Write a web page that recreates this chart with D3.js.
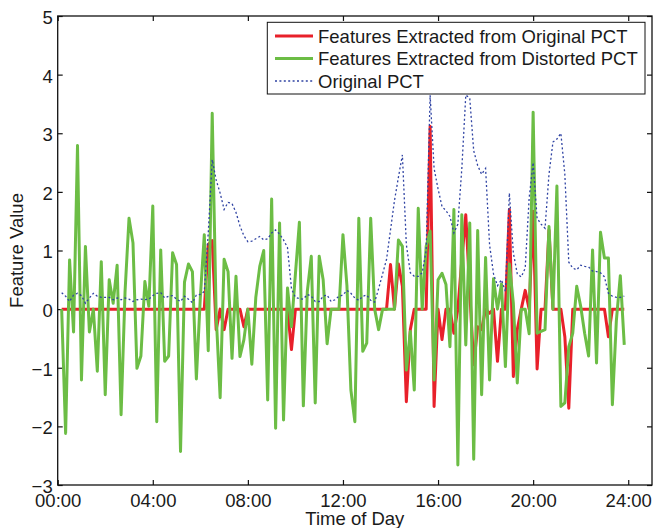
<!DOCTYPE html>
<html>
<head>
<meta charset="utf-8">
<script src="https://cdn.jsdelivr.net/npm/d3@7/dist/d3.min.js"></script>
<style>
  html, body { margin: 0; padding: 0; background: #fff; }
  svg { display: block; }
  text { font-family: "Liberation Sans", Arial, Helvetica, sans-serif; fill: #1a1a1a; }
</style>
</head>
<body>
<svg id="chart" width="654" height="528"></svg>
<script>
// ---- data (10-minute samples, minutes after midnight) ----
const times = d3.range(1, 144).map(i => i * 10);

const xTicks = [0, 4, 8, 12, 16, 20, 24];
const xTickLabels = ["00:00", "04:00", "08:00", "12:00", "16:00", "20:00", "24:00"];
const yTicks = [-3, -2, -1, 0, 1, 2, 3, 4, 5];

const seriesNames = [
  "Features Extracted from Original PCT",
  "Features Extracted from Distorted PCT",
  "Original PCT"
];

const originalFeatures = [
  0,0,0,0,0,0,0,0,0,0,
  0,0,0,0,0,0,0,0,0,0,
  0,0,0,0,0,0,0,0,0,0,
  0,0,0,0,0,0,0,1.1,1.17,-0.35,
  0,-0.35,0,0,0,0,-0.3,0,0,0,
  0,0,0,0,0,0,0,0,-0.69,0,
  0,0,0,0,0,0,0,0,0,0,
  0,0,0,0,0,0,0,0,0,0,
  0,0,0,0.76,0,0.77,0.39,-1.58,-0.35,0,
  0,0,0,3.12,-1.66,0,-0.52,0,0,-0.41,
  0,0.84,1.61,0.3,-0.95,-0.3,-0.35,0,-0.07,0,
  -0.89,0,0,1.7,-1.15,-0.35,0,0.32,0,1.67,
  -1.02,0,0,1.35,0,0,0,-0.47,-1.69,0,
  0,0,0,0,0,0,0,0,-0.47,0,
  0,0,0
];

const distortedFeatures = [
  0,-2.12,0.84,-0.39,2.79,-1.21,1.07,-0.39,0,-1.06,
  0.81,-1.46,0.5,0.1,0.75,-1.8,0.3,1.55,1.13,-1.01,
  -0.8,0.47,0.05,1.76,-1.92,1.01,-0.89,-0.8,0.96,0.76,
  -2.43,0.46,0.77,0.64,-1.19,0.2,1.27,-0.71,3.34,-0.1,
  -1.51,0.85,0.64,-0.84,0.56,-0.81,-0.52,0,-0.94,0.2,
  0.73,1.0,-1.55,1.88,-2.03,1.47,-1.89,0.36,-0.3,0.6,
  1.48,-1.65,0.3,0.9,-1.6,0.9,0.5,-0.59,0,0,
  0,1.27,0.4,-1.38,-1.92,1.55,-0.72,-0.58,1.55,0,
  -0.35,0,0,0,0,1.18,1.07,-1.04,-0.38,-1.38,
  1.72,0,1.07,1.33,-1.21,0.5,0.61,0.42,-0.64,1.7,
  -2.66,1.61,-0.61,1.47,-2.56,1.34,-1.46,0.88,-1.21,0.52,
  0,0.43,-0.98,0.77,0.1,-1.26,0,0,-0.42,3.36,
  -0.41,-0.38,-0.35,1.41,0,2.1,-1.66,-1.6,-0.64,-0.41,
  0.39,0.05,-0.41,-0.8,1.01,-0.92,1.31,0.87,0.87,-1.63,
  -0.2,0.57,-0.61
];

const originalPCT = [
  0.28,0.22,0.13,0.24,0.27,0.23,0.1,0.19,0.27,0.22,
  0.2,0.2,0.2,0.16,0.19,0.16,0.19,0.17,0.13,0.16,
  0.17,0.16,0.17,0.23,0.27,0.28,0.19,0.22,0.23,0.17,
  0.13,0.22,0.17,0.11,0.24,0.25,0.3,1.3,2.55,2.2,
  1.98,1.7,1.82,1.8,1.65,1.42,1.25,1.15,1.16,1.2,
  1.24,1.18,1.2,1.3,1.35,1.28,1.18,1.05,0.35,0.2,
  0.18,0.17,0.25,0.22,0.13,0.13,0.22,0.24,0.13,0.16,
  0.22,0.24,0.32,0.27,0.19,0.15,0.22,0.24,0.15,0.12,
  0.35,0.6,0.85,1.35,1.85,2.25,2.63,1.1,0.62,0.56,
  0.56,0.62,1.0,3.65,2.4,2.05,1.75,1.68,1.58,1.3,
  1.45,2.4,3.65,3.6,2.7,2.45,2.3,2.4,1.1,0.6,
  0.4,0.5,0.3,1.98,0.96,0.6,0.55,0.7,1.9,2.5,
  1.55,1.45,1.38,2.3,2.85,2.9,3.0,2.3,0.8,0.7,
  0.67,0.75,0.73,0.72,0.65,0.64,0.62,0.55,0.27,0.22,
  0.2,0.2,0.22
];

// ---- layout ----
const L = 57.7, R = 652, T = 16, B = 485;
const FS = 18.5;
const svg = d3.select("#chart");

const x = d3.scaleLinear().domain([0, 25]).range([L, R]);
const y = d3.scaleLinear().domain([-3, 5]).range([B, T]);

const fmtY = v => (v < 0 ? "\u2212" + Math.abs(v) : String(v));

// axes
const gB = svg.append("g").attr("transform", `translate(0,${B})`)
  .call(d3.axisBottom(x).tickValues(xTicks).tickSize(-5).tickPadding(9)
    .tickFormat((d, i) => xTickLabels[i]));
const gT = svg.append("g").attr("transform", `translate(0,${T})`)
  .call(d3.axisTop(x).tickValues(xTicks).tickSize(-5).tickFormat(""));
const gL = svg.append("g").attr("transform", `translate(${L},0)`)
  .call(d3.axisLeft(y).tickValues(yTicks).tickSize(-5).tickPadding(5).tickFormat(fmtY));
const gR = svg.append("g").attr("transform", `translate(${R},0)`)
  .call(d3.axisRight(y).tickValues(yTicks).tickSize(-5).tickFormat(""));

[gB, gT, gL, gR].forEach(g => {
  g.select(".domain").remove();
  g.selectAll(".tick line").attr("stroke", "#111").attr("stroke-width", 1.2);
  g.selectAll(".tick text").attr("font-size", FS).attr("fill", "#1a1a1a")
    .style("font-family", '"Liberation Sans", Arial, sans-serif');
});
gL.selectAll(".tick text").attr("dy", "0.4em");

// clip for data
svg.append("clipPath").attr("id", "clip").append("rect")
  .attr("x", L).attr("y", T).attr("width", R - L).attr("height", B - T);

const hours = times.map(m => m / 60);
const line = d3.line().x((d, i) => x(hours[i])).y(d => y(d));

const BLUE = "#2f43a3", BLUE_DASH = "2,2.4", BLUE_W = 1.3;

const gData = svg.append("g").attr("clip-path", "url(#clip)");
gData.append("path").datum(originalFeatures).attr("d", line)
  .attr("fill", "none").attr("stroke", "#e8202a").attr("stroke-width", 3)
  .attr("stroke-linejoin", "round");
gData.append("path").datum(distortedFeatures).attr("d", line)
  .attr("fill", "none").attr("stroke", "#6cbd45").attr("stroke-width", 3)
  .attr("stroke-linejoin", "round");
gData.append("path").datum(originalPCT).attr("d", line)
  .attr("fill", "none").attr("stroke", BLUE).attr("stroke-width", BLUE_W)
  .attr("stroke-dasharray", BLUE_DASH);

// frame
svg.append("rect").attr("x", L).attr("y", T).attr("width", R - L).attr("height", B - T)
  .attr("fill", "none").attr("stroke", "#111").attr("stroke-width", 1.3);

// axis titles
svg.append("text").attr("x", (L + R) / 2).attr("y", 525).attr("text-anchor", "middle")
  .attr("font-size", FS).text("Time of Day");
svg.append("text").attr("transform", `translate(23,${(T + B) / 2}) rotate(-90)`)
  .attr("text-anchor", "middle").attr("font-size", FS).text("Feature Value");

// legend
const lg = svg.append("g");
lg.append("rect").attr("x", 267.3).attr("y", 22.3).attr("width", 377.7).attr("height", 71.7)
  .attr("fill", "#fff").attr("stroke", "#111").attr("stroke-width", 1);
const styles = [
  { stroke: "#e8202a", w: 3, dash: null },
  { stroke: "#6cbd45", w: 3, dash: null },
  { stroke: BLUE, w: BLUE_W, dash: BLUE_DASH }
];
seriesNames.forEach((name, i) => {
  const cy = 36 + i * 22.5;
  const ln = lg.append("line").attr("x1", 275).attr("x2", 313).attr("y1", cy).attr("y2", cy)
    .attr("stroke", styles[i].stroke).attr("stroke-width", styles[i].w);
  if (styles[i].dash) ln.attr("stroke-dasharray", styles[i].dash);
  lg.append("text").attr("x", 318).attr("y", cy + 6.7).attr("font-size", FS).text(name);
});
</script>
</body>
</html>
